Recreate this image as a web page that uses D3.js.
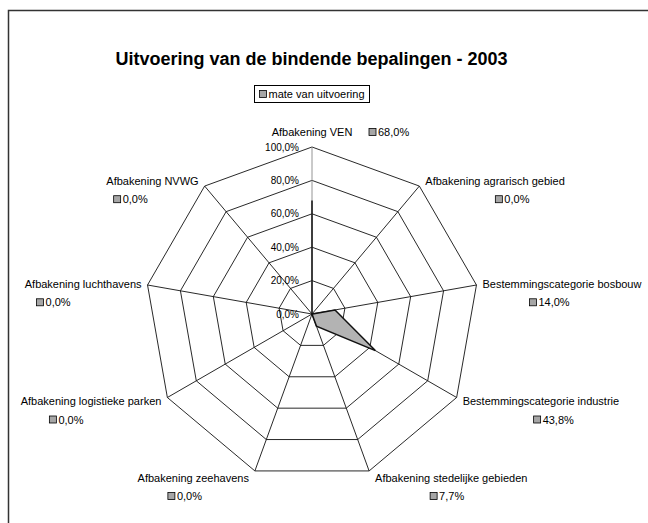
<!doctype html>
<html>
<head>
<meta charset="utf-8">
<script src="https://cdn.jsdelivr.net/npm/d3@7"></script>
<style>
  html, body { margin: 0; padding: 0; background: #fff; overflow: hidden; }
  svg { display: block; }
  text { font-family: "Liberation Sans", Arial, Helvetica, sans-serif; fill: #000; }
</style>
</head>
<body>
<svg width="648" height="523"></svg>
<script>
// data
var categories = [
    "Afbakening VEN",
    "Afbakening agrarisch gebied",
    "Bestemmingscategorie bosbouw",
    "Bestemmingscategorie industrie",
    "Afbakening stedelijke gebieden",
    "Afbakening zeehavens",
    "Afbakening logistieke parken",
    "Afbakening luchthavens",
    "Afbakening NVWG"
];
var values = [0.68, 0.0, 0.14, 0.438, 0.077, 0.0, 0.0, 0.0, 0.0];
var tickValues = [0, 0.2, 0.4, 0.6, 0.8, 1.0];
var seriesName = "mate van uitvoering";
var title = "Uitvoering van de bindende bepalingen - 2003";

// horizontal shift of the value key relative to each category label anchor
var valueShift = [57, 70, 47, 71, 55, -81, -112, -105, -85];

var nl = d3.formatLocale({decimal: ",", thousands: ".", grouping: [3], currency: ["€", ""]});
var pct = nl.format(".1%");

var svg = d3.select("svg"),
    W = +svg.attr("width"), H = +svg.attr("height"),
    cx = 312, cy = 314, radius = 167,
    n = categories.length;

var rScale = d3.scaleLinear().domain([0, 1]).range([0, radius]);
var aScale = d3.scaleLinear().domain([0, n]).range([0, 2 * Math.PI]);

// frame (only top and left edges fall inside the picture)
svg.append("path")
    .attr("d", "M8.5," + (H + 5) + "V10.5H" + (W + 5))
    .style("fill", "none")
    .style("stroke", "#333")
    .style("stroke-width", 1.5);

// title
svg.append("text")
    .attr("x", 311.5).attr("y", 64.5)
    .attr("text-anchor", "middle")
    .style("font-size", "18px")
    .style("font-weight", "bold")
    .text(title);

// legend
var leg = svg.append("g").attr("transform", "translate(254.5,85.5)");
leg.append("rect").attr("width", 115).attr("height", 17)
    .style("fill", "#fff").style("stroke", "#000").style("stroke-width", 1);
leg.append("rect").attr("x", 5).attr("y", 5).attr("width", 7).attr("height", 7)
    .style("fill", "#a6a6a6").style("stroke", "#000").style("stroke-width", 0.8);
leg.append("text").attr("x", 14).attr("y", 12.5)
    .style("font-size", "11px").text(seriesName);

var g = svg.append("g").attr("transform", "translate(" + cx + "," + cy + ")");

var ringLine = d3.lineRadial()
    .angle(function(d, i) { return aScale(i); })
    .radius(function(d) { return rScale(d); })
    .curve(d3.curveLinearClosed);

// grid rings
g.selectAll(".ring")
    .data(tickValues.filter(function(t) { return t > 0; }))
    .enter().append("path")
    .attr("class", "ring")
    .attr("d", function(t) { return ringLine(categories.map(function() { return t; })); })
    .style("fill", "none")
    .style("stroke", "#111")
    .style("stroke-width", 0.9);

// spokes
g.selectAll(".spoke")
    .data(categories)
    .enter().append("line")
    .attr("class", "spoke")
    .attr("x1", 0).attr("y1", 0)
    .attr("x2", function(d, i) { return rScale(1) * Math.sin(aScale(i)); })
    .attr("y2", function(d, i) { return -rScale(1) * Math.cos(aScale(i)); })
    .style("stroke", function(d, i) { return i === 0 ? "#888" : "#111"; })
    .style("stroke-width", 0.9);

// tick labels on the value axis
g.selectAll(".tick")
    .data(tickValues)
    .enter().append("text")
    .attr("class", "tick")
    .attr("x", -13)
    .attr("y", function(t) { return -rScale(t) + 3.5; })
    .attr("text-anchor", "end")
    .style("font-size", "10px")
    .text(pct);

// data polygon
g.append("path")
    .datum(values)
    .attr("d", ringLine)
    .style("fill", "#b3b3b3")
    .style("stroke", "#111")
    .style("stroke-width", 1.5)
    .style("stroke-linejoin", "miter");

// data labels: category name + key + value
categories.forEach(function(name, i) {
    var a = aScale(i),
        vx = rScale(1) * Math.sin(a),
        vy = -rScale(1) * Math.cos(a),
        s = Math.sin(a),
        lab = g.append("g");
    var anchor, lx, ly, kx, ky;
    if (Math.abs(s) < 0.01) {
        anchor = "middle"; lx = vx; ly = vy - 15;
        kx = vx + valueShift[i]; ky = ly;
    } else {
        anchor = s > 0 ? "start" : "end";
        lx = vx + (s > 0 ? 6 : -6);
        ly = vy - 7 * Math.cos(a);
        kx = lx + valueShift[i]; ky = ly + 18.5;
    }
    lab.append("text")
        .attr("x", lx).attr("y", ly + 4)
        .attr("text-anchor", anchor)
        .style("font-size", "11px")
        .text(name);
    lab.append("rect")
        .attr("x", kx).attr("y", ky - 3.5)
        .attr("width", 7).attr("height", 7)
        .style("fill", "#a6a6a6").style("stroke", "#000").style("stroke-width", 0.8);
    lab.append("text")
        .attr("x", kx + 9).attr("y", ky + 4)
        .style("font-size", "11px")
        .text(pct(values[i]));
});
</script>
</body>
</html>
